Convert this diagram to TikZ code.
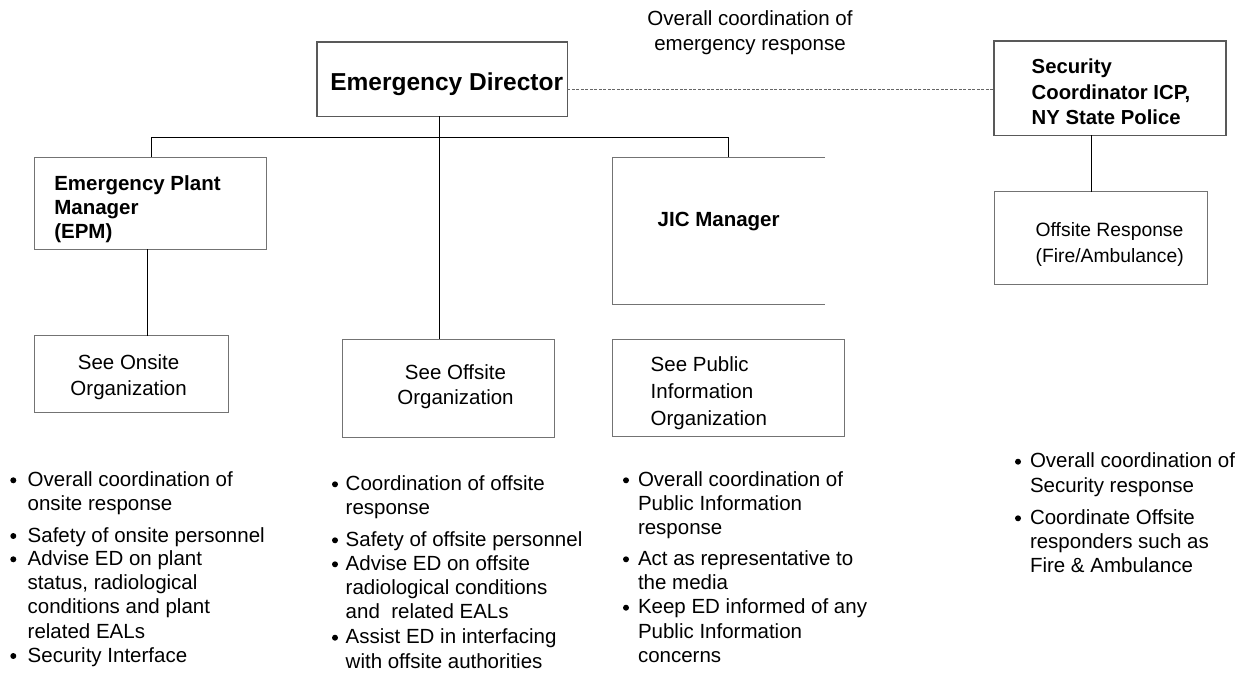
\documentclass[tikz,border=0pt]{standalone}
\usepackage{fontspec}
\setmainfont{Liberation Sans}
\newcommand\bulitem[5]{%
  \node[dot] (#1-dot) at (#2,{#4+1}) {};
  \node[txt] (#1) at (#3,{#4-10}) {\strut #5};}
\begin{document}
\begin{tikzpicture}[x=1pt,y=-1pt,
  box/.style={draw=black!55, line width=1pt, rectangle, inner sep=0pt, outer sep=0pt},
  mainbox/.style={draw=black!65, line width=1.6pt, rectangle, inner sep=0pt, outer sep=0pt},
  link/.style={draw=black, line width=1pt},
  dashlink/.style={draw=black!60, line width=1pt, dash pattern=on 3pt off 1.5pt},
  txt/.style={inner sep=0pt, outer sep=0pt, anchor=north west, align=left, font=\fontsize{20.5}{24.3}\selectfont},
  btxt/.style={txt, font=\fontsize{20.5}{24.3}\selectfont\bfseries},
  dot/.style={circle, fill=black, draw=none, inner sep=0pt, minimum size=6pt},
]
\useasboundingbox (0,0) rectangle (1242,673);

% ---- boxes ----
\node[mainbox, minimum width=250.6, minimum height=74.6] (ed) at (442,79) {};
\node[mainbox, minimum width=232, minimum height=94.3] (sec) at (1110,88.15) {};
\node[box, minimum width=213, minimum height=92.3] (ofr) at (1101.2,237.85) {};
\node[box, minimum width=231.7, minimum height=91.7] (epm) at (150.15,203.15) {};
\node[inner sep=0pt, outer sep=0pt, minimum width=212.7, minimum height=146.7] (jic) at (718.65,230.65) {};
\draw[draw=black!55, line width=1pt] (jic.north east) -- (jic.north west) -- (jic.south west) -- (jic.south east);
\node[box, minimum width=193.6, minimum height=76.6] (onbox) at (131.2,374) {};
\node[box, minimum width=212.5, minimum height=98] (offbox) at (448.45,388.3) {};
\node[box, minimum width=231.6, minimum height=97.4] (pubbox) at (728.5,388) {};

% ---- labels ----
\node[txt, align=center, anchor=north, font=\fontsize{20.5}{25.5}\selectfont] (note) at (750,7.2) {\strut Overall coordination of\\emergency response};
\node[inner sep=0pt, anchor=base, font=\fontsize{24.5}{29}\selectfont\bfseries] (edl) at (446.7,90) {Emergency Director};
\node[btxt, font=\fontsize{20.3}{25.3}\selectfont\bfseries] (secl) at (1031.7,56) {\strut Security\\Coordinator ICP,\\NY State Police};
\node[txt, font=\fontsize{19.3}{26}\selectfont] (ofrl) at (1035.7,218.4) {\strut Offsite Response\\(Fire/Ambulance)};
\node[btxt] (epml) at (54.3,173.3) {\strut Emergency Plant\\Manager\\(EPM)};
\node[btxt] (jicl) at (657.7,209) {\strut JIC Manager};
\node[txt, align=center, anchor=north, font=\fontsize{20.5}{25.6}\selectfont] (onl) at (128.6,351.8) {\strut See Onsite\\Organization};
\node[txt, align=center, anchor=north, font=\fontsize{20.5}{25.4}\selectfont] (offl) at (455.5,361.5) {\strut See Offsite\\Organization};
\node[txt, font=\fontsize{20.5}{26.6}\selectfont] (publ) at (650.7,353.3) {\strut See Public\\Information\\Organization};

% ---- connectors ----
\coordinate (stemx) at (439.3,137);
\draw[link] (stemx |- ed.south) -- (stemx |- offbox.north);
\coordinate (busl) at (151,137);
\coordinate (busr) at (728.3,137);
\draw[link] (busl |- epm.north) -- (busl) -- (busr) -- (busr |- jic.north);
\coordinate (eox) at (147.7,300);
\draw[link] (eox |- epm.south) -- (eox |- onbox.north);
\coordinate (sox) at (1091,160);
\draw[link] (sox |- sec.south) -- (sox |- ofr.north);
\coordinate (dashy) at (780,89.3);
\draw[dashlink] (ed.east |- dashy) -- (sec.west |- dashy);

% ---- bullet lists ----
\bulitem{c1a}{13.3}{27.7}{479.3}{Overall coordination of\\onsite response}
\bulitem{c1b}{13.3}{27.7}{535}{Safety of onsite personnel}
\bulitem{c1c}{13.3}{27.7}{558.3}{Advise ED on plant\\status, radiological\\conditions and plant\\related EALs}
\bulitem{c1d}{13.3}{27.7}{655}{Security Interface}

\bulitem{c2a}{335}{345.7}{483.3}{Coordination of offsite\\response}
\bulitem{c2b}{335}{345.7}{539.3}{Safety of offsite personnel}
\bulitem{c2c}{335}{345.7}{563.3}{Advise ED on offsite\\radiological conditions\\and\ \ related EALs}
\bulitem{c2d}{335}{345.7}{636.7}{Assist ED in interfacing\\with offsite authorities}

\bulitem{c3a}{626}{638}{479.3}{Overall coordination of\\Public Information\\response}
\bulitem{c3b}{626}{638}{558.3}{Act as representative to\\the media}
\bulitem{c3c}{626}{638}{606.7}{Keep ED informed of any\\Public Information\\concerns}

\bulitem{c4a}{1018}{1030}{460.7}{Overall coordination of\\Security response}
\bulitem{c4b}{1018}{1030}{517.3}{Coordinate Offsite\\responders such as\\Fire \& Ambulance}
\end{tikzpicture}
\end{document}
